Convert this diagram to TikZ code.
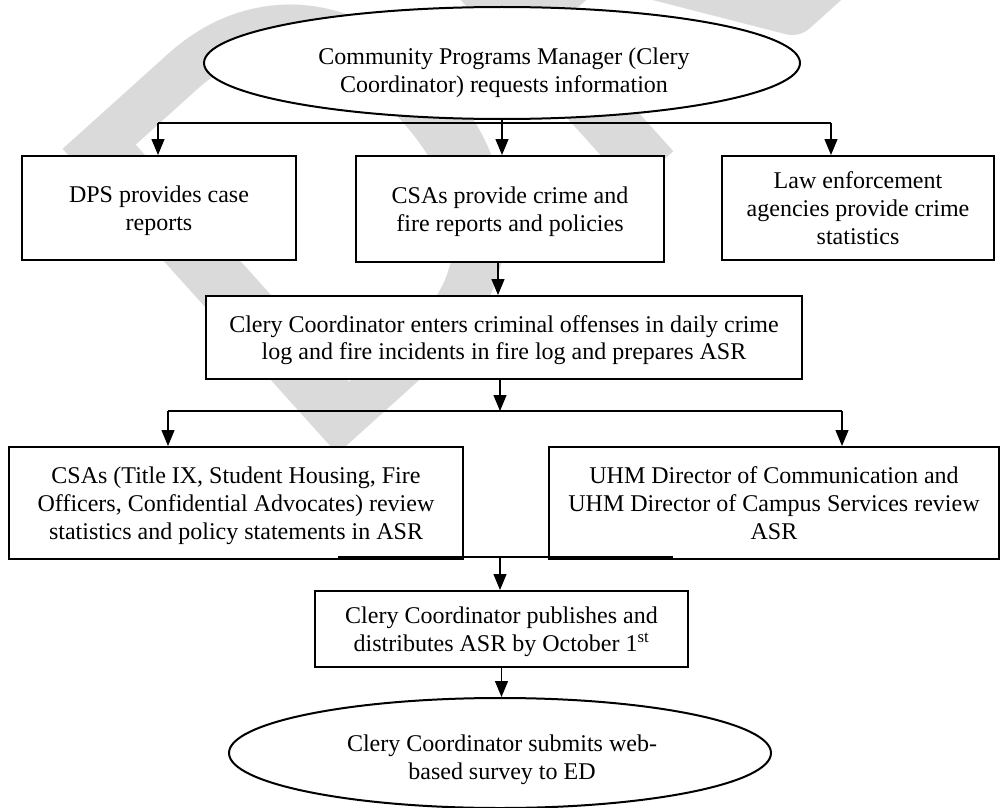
\documentclass[tikz,border=0pt]{standalone}
\usepackage{fontspec}
\setmainfont{Liberation Serif}
\newfontfamily\wmfont{Carlito}
\usetikzlibrary{arrows.meta,shapes.geometric}
\definecolor{wmgray}{RGB}{218,218,218}
\begin{document}
\begin{tikzpicture}[x=1pt,y=-1pt,
  textfont/.style={font=\fontsize{24}{27.8}\selectfont},
  box/.style={draw, line width=2pt, fill=white, align=center, inner sep=0pt,
    text depth=-8pt, textfont},
  oval/.style={ellipse, draw, line width=2pt, fill=white, inner sep=0pt},
  ovaltext/.style={align=center, inner sep=0pt, textfont},
  link/.style={line width=1.3pt},
  arrowlink/.style={link, -{Triangle[length=16pt,width=13pt]}},
  watermark/.style={anchor=base west, rotate=42, inner sep=0pt, text=wmgray,
    font=\wmfont\fontsize{640}{640}\selectfont}]
\useasboundingbox (0,0) rectangle (1001,808);

% background watermark
\node[watermark] (draft) at (305,484) {DRAFT};

% start
\node[oval, minimum width=596pt, minimum height=112pt] (top) at (502,63) {};
\node[ovaltext] (toptext) at (504,73) {Community Programs Manager (Clery\\Coordinator) requests information};

% first row
\node[box, minimum width=274pt, minimum height=104pt] (dps) at (159,208) {DPS provides case\\reports};
\node[box, minimum width=308pt, minimum height=106pt] (csa) at (510,209) {CSAs provide crime and\\fire reports and policies};
\node[box, minimum width=272pt, minimum height=104pt] (law) at (858,208) {Law enforcement\\agencies provide crime\\statistics};

% logging step
\node[box, minimum width=596pt, minimum height=83pt] (clery) at (504,337.5) {Clery Coordinator enters criminal offenses in daily crime\\log and fire incidents in fire log and prepares ASR};

% review row
\node[box, minimum width=454pt, minimum height=112pt] (revl) at (236,503) {CSAs (Title IX, Student Housing, Fire\\Officers, Confidential Advocates) review\\statistics and policy statements in ASR};
\node[box, minimum width=450pt, minimum height=112pt] (revr) at (774,503) {UHM Director of Communication and\\UHM Director of Campus Services review\\ASR};

% publishing
\node[box, minimum width=373pt, minimum height=76pt] (pub) at (501.5,629) {Clery Coordinator publishes and\\distributes ASR by October 1\textsuperscript{st}};

% end
\node[oval, minimum width=542pt, minimum height=110pt] (bot) at (500,753) {};
\node[ovaltext] (bottext) at (502,760) {Clery Coordinator submits web-\\based survey to ED};

% split points
\coordinate (tsL) at (158,123);
\coordinate (tsM) at (502,123);
\coordinate (tsR) at (831,123);
\coordinate (bsL) at (168,411);
\coordinate (bsM) at (500,411);
\coordinate (bsR) at (842,411);
\coordinate (jL) at (338,557);
\coordinate (jM) at (500,557);
\coordinate (jR) at (673,557);

% connectors
\draw[link] (top.south) -- (tsM);
\draw[link] (tsL) -- (tsR);
\draw[arrowlink] (tsL) -- (tsL |- dps.north);
\draw[arrowlink] (tsM) -- (tsM |- csa.north);
\draw[arrowlink] (tsR) -- (tsR |- law.north);
\draw[arrowlink] ([xshift=-12pt]csa.south) -- ([xshift=-12pt]csa.south |- clery.north);
\draw[arrowlink] (clery.south -| bsM) -- (bsM);
\draw[link] (bsL) -- (bsR);
\draw[arrowlink] (bsL) -- (bsL |- revl.north);
\draw[arrowlink] (bsR) -- (bsR |- revr.north);
\draw[link] (jL) -- (jR);
\draw[arrowlink] (jM) -- (jM |- pub.north);
\draw[arrowlink] (pub.south) -- (pub.south |- bot.north);
\end{tikzpicture}
\end{document}
